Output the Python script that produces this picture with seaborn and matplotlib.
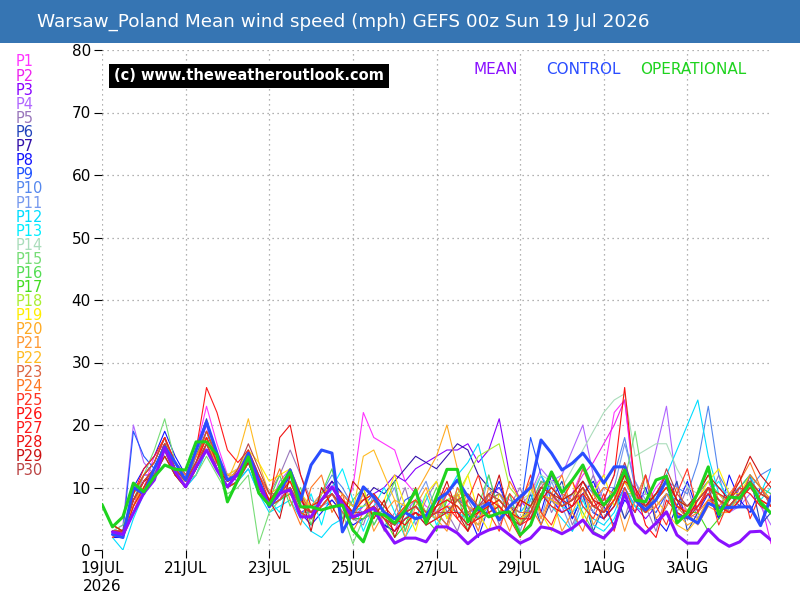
import pandas as pd
import seaborn as sns
import matplotlib.pyplot as plt
import matplotlib.patches as mpatches

# ==========================================
# DATA (mph, 6-hourly from 19 Jul 2026 00z)
# ==========================================
TITLE = "Warsaw_Poland Mean wind speed (mph) GEFS 00z Sun 19 Jul 2026"
TICK_HOURS = [0, 48, 96, 144, 192, 240, 288, 336]
TICK_LABELS = ["19JUL\n2026", "21JUL", "23JUL", "25JUL", "27JUL", "29JUL", "1AUG", "3AUG"]
Y_TICKS = [0, 10, 20, 30, 40, 50, 60, 70, 80]

MEMBER_NAMES = [f"P{i}" for i in range(1, 31)]
MEMBER_COLORS = [
    "#ff33ff", "#ee22ee", "#8800ff", "#b066ff", "#9977bb", "#2244bb", "#3311aa", "#1111ff",
    "#2255ff", "#5588ee", "#7799ee", "#00ddff", "#00eeff", "#aaddbb", "#77dd77", "#55dd55",
    "#44dd22", "#aaee33", "#ffee00", "#ffaa22", "#ff9933", "#ffbb22", "#dd6644", "#ff7722",
    "#ff3322", "#ff1111", "#ff1a1a", "#ee1111", "#cc1111", "#bb4444",
]

p01 = [3,2,6,10,15,17,14,12, 16,23,17,12,13,16,12,9, 8,12,9,5,7,9,6,10, 22,18,17,16,11,9,7,6,
       7,9,6,5,8,10,7,6, 8,12,9,6,9,13,10,12, 22,24,9,7,10,12,8,6, 7,9,7,6,8,10,8,7]
p02 = [4,3,7,12,14,18,12,10, 15,20,13,10,12,14,10,7, 10,13,8,5,9,11,7,5, 7,8,4,3,7,8,6,5,
       9,8,6,7,9,10,7,4, 7,11,10,8,9,12,14,17, 20,24,10,6,9,11,6,5, 9,11,7,6,10,12,8,1]
p03 = [2,3,9,12,12,16,13,11, 13,17,15,12,11,14,10,8, 9,10,6,7,9,11,9,7, 8,9,10,12,11,13,14,15,
       16,16,17,14,16,21,12,8, 6,9,8,6,7,9,6,5, 7,10,7,5,7,9,6,5, 7,9,7,6,8,10,8,7]
p04 = [3,4,20,14,12,16,12,10, 13,16,13,10,11,14,10,7, 11,13,9,7,8,10,7,6, 6,8,6,5,6,8,6,7,
       9,8,7,6,8,9,8,7, 9,13,11,12,16,20,12,8, 9,11,8,9,16,23,10,6, 5,8,7,6,7,9,7,4]
p05 = [2,3,7,10,13,15,12,10, 12,16,13,11,12,15,12,9, 12,16,12,8,7,8,6,5, 4,9,3,6,10,4,8,11,
       6,3,8,5,9,4,7,10, 5,11,6,9,4,8,12,6, 9,5,11,7,3,9,6,10, 5,8,12,6,10,7,4,9]
p06 = [3,2,9,12,14,18,14,12, 16,21,15,11,13,16,11,7, 8,10,6,5,7,9,7,5, 5,6,4,3,5,6,4,5,
       7,6,4,5,6,7,5,4, 9,4,8,11,5,9,3,7, 10,5,8,12,4,7,11,3, 6,10,5,9,7,12,4,6]
p07 = [3,3,8,10,12,16,12,10, 13,17,14,11,12,15,11,8, 9,12,8,6,8,11,9,7, 8,10,9,11,13,15,14,13,
       15,17,16,12,10,9,7,5, 7,10,9,7,8,9,6,5, 8,11,8,6,8,10,7,6, 8,10,8,7,9,10,9,8]
p08 = [2,2,10,13,15,19,15,12, 15,19,14,10,11,14,10,7, 8,10,6,4,6,8,6,4, 5,6,4,3,5,6,5,6,
       4,9,6,2,7,11,5,8, 10,6,12,8,5,9,11,7, 4,8,6,10,5,3,7,11, 6,9,5,12,8,6,10,7]
p09 = [3,3,19,15,13,17,13,11, 14,18,14,11,12,14,10,8, 9,11,7,6,8,10,8,6, 7,9,6,5,8,9,6,5,
       6,8,7,5,9,10,7,6, 18,12,8,6,7,9,6,5, 7,11,9,7,6,9,8,5, 8,10,8,7,9,11,9,8]
p10 = [4,3,7,10,12,15,12,11, 13,16,13,10,11,13,9,7, 8,9,6,6,9,12,10,7, 6,6,4,5,7,8,6,5,
       7,6,6,7,8,9,6,5, 6,9,8,7,9,11,9,8, 12,18,10,7,9,11,10,9, 14,23,12,9,8,10,12,13]
p11 = [3,2,6,9,12,16,13,12, 14,19,15,12,13,16,12,9, 10,12,8,7,9,10,8,6, 9,4,7,10,3,8,11,6,
       4,10,7,5,12,6,9,3, 8,5,11,7,3,9,6,10, 10,17,11,8,9,11,8,7, 9,11,10,9,10,12,10,9]
p12 = [2,0,5,9,12,15,12,10, 12,16,13,10,11,13,9,6, 7,8,5,3,2,4,5,6, 7,8,6,4,5,7,6,7,
       9,12,14,17,10,7,5,4, 6,9,7,5,3,7,5,4, 6,10,7,6,9,12,16,20, 24,15,9,7,8,10,9,13]
p13 = [3,2,7,10,12,16,13,11, 13,17,14,11,12,15,11,8, 6,12,5,9,4,10,13,8, 3,7,10,6,2,5,9,4,
       7,6,5,6,8,9,7,6, 8,12,9,7,6,8,4,3, 5,9,7,6,8,11,7,5, 7,9,11,8,10,12,8,10]
p14 = [3,3,8,11,13,16,12,10, 13,17,14,11,12,14,10,8, 9,10,7,6,8,9,7,6, 6,7,5,4,6,7,5,6,
       8,7,5,6,7,8,7,8, 9,12,11,10,13,16,19,22, 24,25,15,16,17,17,13,10, 9,10,8,7,9,11,9,8]
p15 = [3,4,8,12,16,21,14,11, 12,15,12,9,10,12,1,6, 8,10,6,5,7,9,6,1, 5,6,5,4,6,7,5,6,
       8,7,5,4,6,7,5,4, 6,9,8,7,8,10,7,6, 8,11,19,9,8,10,7,6, 8,10,8,6,9,11,8,7]
p16 = [4,3,8,11,13,17,13,10, 14,17,13,10,11,14,11,8, 12,7,10,4,9,13,5,8, 10,4,7,11,3,8,6,10,
       5,9,3,7,12,6,9,4, 7,11,10,8,9,6,3,2, 4,9,9,7,9,11,8,7, 9,11,9,8,10,12,10,9]
p17 = [3,3,9,12,14,18,13,11, 15,19,15,11,12,15,11,7, 8,9,6,5,7,9,7,5, 5,7,5,2,4,8,5,3,
       8,8,6,5,7,8,6,5, 6,10,9,7,8,10,7,6, 8,12,8,6,8,10,7,6, 6,3,5,7,9,11,8,6]
p18 = [4,3,7,10,13,16,12,10, 13,17,13,10,11,14,10,8, 9,10,7,6,8,10,8,7, 7,8,6,5,7,9,6,7,
       8,9,12,15,16,17,10,8, 7,9,8,7,8,10,7,6, 8,11,8,7,9,11,8,7, 8,10,8,7,9,11,9,8]
p19 = [3,2,7,10,12,15,12,11, 14,18,15,12,13,16,14,11, 12,13,9,7,8,10,8,6, 10,5,8,12,7,3,9,11,
       5,8,12,6,3,9,7,4, 10,6,3,8,11,5,9,12, 7,11,8,6,8,10,7,6, 8,11,13,9,9,12,10,8]
p20 = [3,3,8,10,12,16,12,10, 13,17,14,12,12,14,11,8, 9,11,7,6,8,10,9,7, 8,9,6,5,7,9,12,15,
       20,13,7,6,7,8,6,5, 6,9,8,7,8,10,7,6, 8,11,8,6,7,9,6,4, 5,8,7,6,9,11,9,8]
p21 = [2,3,7,11,13,17,14,12, 15,18,14,11,13,15,11,8, 10,12,8,6,7,9,7,5, 9,3,6,8,2,7,10,5,
       3,9,6,4,10,7,3,8, 11,5,9,3,6,10,4,7, 9,3,8,12,5,7,10,6, 4,7,6,6,8,10,8,7]
p22 = [4,3,7,10,13,16,12,10, 13,16,13,11,15,21,14,9, 10,11,8,7,9,10,8,6, 15,16,12,8,7,8,6,5,
       7,7,5,6,7,8,6,5, 6,10,9,7,8,10,7,6, 8,13,9,6,8,6,4,3, 5,8,9,7,9,11,9,8]
p23 = [3,3,8,11,13,17,13,11, 14,18,14,11,12,15,11,8, 10,13,9,6,7,9,6,5, 6,7,5,4,6,7,5,6,
       9,8,6,7,8,9,7,6, 6,10,12,9,8,13,9,6, 8,12,8,6,8,10,7,6, 9,12,8,6,8,12,10,7]
p24 = [3,2,6,10,13,17,14,12, 15,18,14,11,12,15,12,9, 13,8,4,10,12,6,9,3, 6,7,5,4,6,7,5,6,
       4,10,7,3,9,5,11,8, 7,4,9,12,6,3,8,10, 9,13,9,7,8,10,7,5, 6,8,7,9,11,14,10,8]
p25 = [2,3,9,12,14,18,14,11, 14,19,15,11,12,15,11,7, 8,10,6,5,7,9,7,5, 6,8,6,5,7,8,6,7,
       10,5,8,12,6,3,9,7, 12,6,4,8,11,7,5,9, 3,10,6,12,7,4,9,13, 6,10,4,8,12,5,9,11]
p26 = [3,3,8,11,13,17,13,11, 14,18,14,11,12,15,11,8, 9,11,7,6,8,10,8,6, 6,7,5,3,5,6,4,5,
       6,6,4,5,6,7,5,4, 5,9,7,6,7,9,7,8, 12,26,10,4,2,8,6,5, 7,9,7,6,8,10,8,7]
p27 = [3,3,9,13,15,18,14,11, 16,26,22,16,14,16,12,8, 10,12,8,6,8,10,8,6, 6,7,5,4,6,7,5,6,
       7,5,3,6,8,7,5,2, 6,10,9,7,8,10,7,6, 8,12,8,6,8,10,7,6, 7,10,9,8,10,9,7,6]
p28 = [3,2,7,10,13,16,12,10, 13,17,13,10,11,14,10,7, 18,20,12,7,8,10,8,6, 8,9,7,5,4,6,5,7,
       8,7,5,6,7,8,6,5, 5,8,10,8,7,11,8,5, 7,11,10,7,9,12,8,5, 8,10,8,7,9,11,9,8]
p29 = [4,3,8,11,12,15,12,10, 13,16,13,11,12,14,10,8, 5,12,9,3,10,7,4,11, 9,5,8,2,6,10,4,7,
       11,6,3,9,7,12,5,8, 7,10,9,8,9,11,8,7, 9,12,8,7,9,11,8,7, 9,12,10,8,11,15,12,10]
p30 = [3,3,8,11,13,17,13,11, 14,17,13,10,13,17,13,9, 9,10,7,6,8,9,7,6, 6,7,5,4,6,7,5,6,
       6,8,9,7,9,8,6,4, 6,10,9,7,8,10,7,6, 9,14,9,7,8,13,9,7, 8,10,8,7,9,11,9,8]

MEMBERS = [p01, p02, p03, p04, p05, p06, p07, p08, p09, p10, p11, p12, p13, p14, p15,
           p16, p17, p18, p19, p20, p21, p22, p23, p24, p25, p26, p27, p28, p29, p30]

mean_vals = [2.9,2.5,5.9,9.1,11.2,16.3,12.5,10.1, 13.3,16,12.8,10.1,12.3,14.7,10.4,7.2,
             9.1,9.6,5.3,5.3,8,10.1,7.5,5.3, 5.9,6.7,3.5,1.1,1.9,1.9,1.3,3.7,
             3.7,2.7,1.0,2.4,3.2,3.7,2.4,1.1, 1.9,3.7,3.4,2.6,3.5,4.8,2.7,1.9,
             3.7,9.1,4.3,2.7,4.3,6.1,2.4,1.1, 1.1,3.3,1.6,0.6,1.3,2.9,3.0,1.6]
control_vals = [2.5,2,10,9,13,16.5,14,11.2, 16,20.5,15.5,11.2,12,15.5,11.2,6.9,
                9,12.8,8,13.6,16,15.5,2.9,6, 10.1,8.5,6,5,6,5,5.5,8,
                9.1,11.2,8.5,6.4,7.5,4.8,7,8.5, 10,17.6,15.5,12.8,13.9,15.5,13.3,10.7,
                13.3,13.3,8,6.4,8,11.2,5.3,5.3, 4.3,7.5,6.7,6.8,6.9,6.9,3.9,8.5]
oper_vals = [7.3, 3.7,5.3,10.7,9.3,11.7,13.6,12.9,12.8, 17.3,17.3,15.2,7.7,11.2,14.9,9.1,7.2,
             10.1,12.5,6.9,6.9,6.4,6.9,7.2,3.2, 1.3,5.9,5.6,4.3,6.4,9.6,4.3,8.5,
             12.9,12.9,4.5,6.9,5.3,5.9,6.1,2.4, 4.0,8.5,12.5,9.2,11.2,13.6,9.6,7.2,
             9.1,12.8,8,7.7,11.2,11.8,4.3,5.9, 9.1,13.3,5.7,8.5,8.3,10.7,7.5,5.9]

MEAN_COLOR = "#8a11ff"
CONTROL_COLOR = "#2a4dff"
OPER_COLOR = "#1ed31e"
BAR_COLOR = "#3675b3"


def make_plot():
    rows = []
    for name, vals in zip(MEMBER_NAMES, MEMBERS):
        for i, v in enumerate(vals):
            rows.append({"hour": 6 * (i + 1), "speed": v, "member": name})
    members_df = pd.DataFrame(rows)
    main_hours = [6 * (i + 1) for i in range(len(mean_vals))]
    oper_hours = [6 * i for i in range(len(oper_vals))]

    sns.set_theme(style="white")
    plt.rcParams["font.family"] = ["DejaVu Sans"]

    fig = plt.figure(figsize=(8, 6), dpi=100)
    fig.patch.set_facecolor("white")

    # blue title bar
    fig.patches.append(mpatches.Rectangle((0, 1 - 43 / 600), 1, 43 / 600, transform=fig.transFigure,
                                          facecolor=BAR_COLOR, edgecolor="none", zorder=0))
    fig.text(37 / 800, 1 - 22 / 600, TITLE, color="white", fontsize=13.2, va="center", ha="left")

    ax = fig.add_axes([102 / 800, 50 / 600, 669 / 800, 500 / 600])

    sns.lineplot(data=members_df, x="hour", y="speed", hue="member",
                 palette=dict(zip(MEMBER_NAMES, MEMBER_COLORS)), linewidth=0.8,
                 legend=False, ax=ax, estimator=None, sort=False)
    sns.lineplot(x=main_hours, y=control_vals, color=CONTROL_COLOR, linewidth=2.2, ax=ax)
    sns.lineplot(x=main_hours, y=mean_vals, color=MEAN_COLOR, linewidth=2.2, ax=ax)
    sns.lineplot(x=oper_hours, y=oper_vals, color=OPER_COLOR, linewidth=2.2, ax=ax)

    ax.set_xlim(0, 384)
    ax.set_ylim(0, 80)
    ax.set_xticks(TICK_HOURS)
    ax.set_xticklabels(TICK_LABELS, fontsize=11)
    ax.set_yticks(Y_TICKS)
    ax.set_yticklabels([str(t) for t in Y_TICKS], fontsize=11)
    ax.tick_params(axis="both", direction="out", length=6, width=0.8, colors="black",
                   bottom=True, left=True, pad=2)
    ax.set_xlabel("")
    ax.set_ylabel("")
    for s in ax.spines.values():
        s.set_visible(False)
    ax.grid(True, color="#999999", linestyle=(0, (1, 3)), linewidth=0.9)
    ax.set_axisbelow(True)

    # watermark box
    ax.text(0.018, 0.963, "(c) www.theweatheroutlook.com", transform=ax.transAxes,
            color="white", fontsize=10.5, fontweight="bold", va="top", ha="left",
            bbox=dict(facecolor="black", edgecolor="none", pad=3.5))

    # line key
    ax.text(473 / 800, 1 - 69 / 600, "MEAN", transform=fig.transFigure, color=MEAN_COLOR,
            fontsize=11, va="center", ha="left")
    ax.text(546 / 800, 1 - 69 / 600, "CONTROL", transform=fig.transFigure, color=CONTROL_COLOR,
            fontsize=11, va="center", ha="left")
    ax.text(640 / 800, 1 - 69 / 600, "OPERATIONAL", transform=fig.transFigure, color=OPER_COLOR,
            fontsize=11, va="center", ha="left")

    # member key on the left
    for k, (name, col) in enumerate(zip(MEMBER_NAMES, MEMBER_COLORS)):
        fig.text(16 / 800, 1 - (62 + 14.1 * k) / 600, name, color=col, fontsize=10.5,
                 va="center", ha="left")

    fig.savefig("out.png", dpi=100)


if __name__ == "__main__":
    make_plot()
